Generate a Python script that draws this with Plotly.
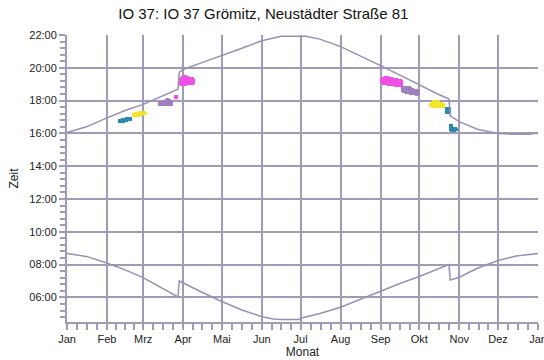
import plotly.graph_objects as go

# --- sunrise / sunset curves (day of year, decimal hours local time) ---
sun_days = [0, 15, 31, 45, 59, 73, 86, 87, 90, 105, 120, 135, 151, 160, 165, 180,
            181, 196, 212, 227, 243, 258, 273, 286, 296, 297, 304, 318, 334, 348, 365]
sunrise = [8.67, 8.50, 8.10, 7.68, 7.21, 6.62, 6.03, 7.00, 6.88, 6.30, 5.75, 5.25,
           4.82, 4.68, 4.65, 4.65, 4.73, 5.02, 5.40, 5.88, 6.40, 6.85, 7.27, 7.68,
           8.00, 7.06, 7.23, 7.78, 8.25, 8.52, 8.67]

set_days = [0, 15, 31, 45, 59, 73, 86, 87, 90, 104, 120, 134, 151, 162, 166, 185,
            196, 212, 227, 243, 258, 273, 286, 296, 297, 304, 318, 334, 345, 358, 365]
sunset = [16.05, 16.40, 16.95, 17.40, 17.77, 18.25, 18.70, 19.72, 19.90, 20.30, 20.74,
          21.15, 21.65, 21.88, 21.92, 21.92, 21.75, 21.29, 20.75, 20.13, 19.55, 18.95,
          18.45, 18.10, 17.07, 16.72, 16.25, 16.00, 15.95, 15.95, 16.03]

# --- flicker periods per day: (days, start hour, end hour, colour) ---
teal_a_days = [41, 42, 43, 44, 45, 46, 47, 48, 49]
teal_a_start = [16.70, 16.70, 16.71, 16.71, 16.73, 16.78, 16.79, 16.80, 16.81]
teal_a_end = [16.83, 16.84, 16.85, 16.85, 16.88, 16.95, 16.96, 16.96, 16.94]

yellow_a_days = [52, 53, 54, 55, 56, 57, 58, 59, 60, 61]
yellow_a_start = [17.09, 17.07, 17.07, 17.08, 17.13, 17.14, 17.15, 17.16, 17.18, 17.21]
yellow_a_end = [17.21, 17.23, 17.23, 17.25, 17.30, 17.32, 17.33, 17.32, 17.31, 17.27]

purple_a_days = [72, 73, 74, 75, 76, 77, 78, 79, 80, 81]
purple_a_start = [17.73, 17.71, 17.71, 17.71, 17.72, 17.72, 17.73, 17.73, 17.74, 17.75]
purple_a_end = [17.91, 17.94, 17.95, 17.96, 17.97, 18.03, 18.07, 18.03, 17.96, 17.93]

magenta_a_days = [84, 85, 87, 88, 89, 90, 91, 92, 93, 94, 95, 96, 97, 98]
magenta_a_start = [18.15, 18.15, 19.01, 18.99, 18.98, 18.98, 18.98, 18.98, 18.99, 19.00,
                   19.01, 19.02, 19.03, 19.08]
magenta_a_end = [18.30, 18.30, 19.27, 19.33, 19.37, 19.45, 19.47, 19.47, 19.43, 19.37,
                 19.37, 19.37, 19.35, 19.27]

magenta_b_days = [244, 245, 246, 247, 248, 249, 250, 251, 252, 253, 254, 255, 256, 257, 258, 259]
magenta_b_start = [19.08, 19.03, 19.01, 19.00, 18.99, 18.98, 18.97, 18.96, 18.95, 18.94,
                   18.93, 18.92, 18.91, 18.91, 18.90, 18.93]
magenta_b_end = [19.29, 19.37, 19.40, 19.42, 19.41, 19.39, 19.37, 19.35, 19.33, 19.32,
                 19.31, 19.30, 19.28, 19.27, 19.25, 19.19]

purple_b_days = [260, 261, 262, 263, 264, 265, 266, 267, 268, 269, 270, 271, 272]
purple_b_start = [18.58, 18.53, 18.51, 18.49, 18.47, 18.45, 18.43, 18.41, 18.40, 18.39,
                  18.38, 18.37, 18.39]
purple_b_end = [18.79, 18.84, 18.86, 18.85, 18.83, 18.81, 18.77, 18.73, 18.69, 18.67,
                18.66, 18.65, 18.59]

yellow_b_days = [282, 283, 284, 285, 286, 287, 288, 289, 290, 291, 292]
yellow_b_start = [17.65, 17.63, 17.62, 17.61, 17.61, 17.61, 17.61, 17.61, 17.61, 17.62, 17.63]
yellow_b_end = [17.79, 17.83, 17.95, 17.99, 18.00, 17.99, 17.92, 17.85, 17.83, 17.81, 17.77]

teal_b_days = [294, 295, 296]
teal_b_start = [17.23, 17.22, 17.25]
teal_b_end = [17.52, 17.57, 17.55]

teal_c_days = [297, 298, 299, 300, 301, 302]
teal_c_start = [16.18, 16.17, 16.17, 16.17, 16.18, 16.20]
teal_c_end = [16.52, 16.50, 16.35, 16.34, 16.32, 16.27]

month_starts = [0, 31, 59, 90, 120, 151, 181, 212, 243, 273, 304, 334, 365]
month_labels = ["Jan", "Feb", "Mrz", "Apr", "Mai", "Jun", "Jul", "Aug", "Sep",
                "Okt", "Nov", "Dez", "Jan"]
hour_ticks = [6, 8, 10, 12, 14, 16, 18, 20, 22]
hour_labels = ["06:00", "08:00", "10:00", "12:00", "14:00", "16:00", "18:00",
               "20:00", "22:00"]

TEAL = "rgb(42,138,172)"
YELLOW = "rgb(242,230,40)"
PURPLE = "rgb(160,128,190)"
MAGENTA = "rgb(240,80,232)"
GRID = "rgb(160,156,184)"
CURVE = "rgb(150,145,178)"

fig = go.Figure()

fig.add_trace(go.Scatter(x=sun_days, y=sunrise, mode="lines",
                         line=dict(color=CURVE, width=1.5), hoverinfo="skip"))
fig.add_trace(go.Scatter(x=set_days, y=sunset, mode="lines",
                         line=dict(color=CURVE, width=1.5), hoverinfo="skip"))

clusters = [
    (teal_a_days, teal_a_start, teal_a_end, TEAL),
    (yellow_a_days, yellow_a_start, yellow_a_end, YELLOW),
    (purple_a_days, purple_a_start, purple_a_end, PURPLE),
    (magenta_a_days, magenta_a_start, magenta_a_end, MAGENTA),
    (magenta_b_days, magenta_b_start, magenta_b_end, MAGENTA),
    (purple_b_days, purple_b_start, purple_b_end, PURPLE),
    (yellow_b_days, yellow_b_start, yellow_b_end, YELLOW),
    (teal_b_days, teal_b_start, teal_b_end, TEAL),
    (teal_c_days, teal_c_start, teal_c_end, TEAL),
]
# each day's flicker window drawn as a small filled block
for days, start, end, col in clusters:
    fig.add_trace(go.Bar(
        x=days, base=start, y=[e - s for s, e in zip(start, end)],
        width=1.0, marker=dict(color=col, line=dict(width=2, color=col)),
        hoverinfo="skip"))

# quarter-month minor ticks
minor_x = []
for a, b in zip(month_starts[:-1], month_starts[1:]):
    minor_x += [a + (b - a) * k / 4 for k in (1, 2, 3)]

axis_font = dict(family="Liberation Sans, Arial, sans-serif", size=11, color="#222")

fig.update_layout(
    width=544, height=360,
    margin=dict(l=67, r=6, t=35, b=38, autoexpand=False),
    paper_bgcolor="white", plot_bgcolor="white",
    showlegend=False, barmode="overlay", bargap=0,
    font=axis_font,
    title=dict(text="IO 37: IO 37 Grömitz, Neustädter Straße 81",
               x=0.484, xref="container", xanchor="center",
               y=0.962, yref="container", yanchor="middle",
               font=dict(family="Liberation Sans, Arial, sans-serif", size=15, color="#111")),
)

fig.update_xaxes(
    range=[0, 365], tickmode="array", tickvals=month_starts, ticktext=month_labels,
    ticklabeloverflow="allow", automargin=False,
    showgrid=True, gridcolor=GRID, gridwidth=2,
    showline=True, linecolor=GRID, linewidth=2,
    ticks="outside", ticklen=6, tickwidth=1.5, tickcolor=GRID,
    minor=dict(tickmode="array", tickvals=minor_x, ticks="outside", ticklen=6,
               tickwidth=1.5, tickcolor=GRID, showgrid=False),
    title=dict(text="Monat", standoff=2, font=dict(size=12)),
    zeroline=False,
)
fig.update_yaxes(
    range=[4.5, 22], tickmode="array", tickvals=hour_ticks, ticktext=hour_labels,
    automargin=False,
    showgrid=True, gridcolor=GRID, gridwidth=2,
    showline=True, linecolor=GRID, linewidth=2,
    ticks="outside", ticklen=6, tickwidth=1.5, tickcolor=GRID,
    minor=dict(tick0=6, dtick=0.4, ticks="outside", ticklen=5,
               tickwidth=1.5, tickcolor=GRID, showgrid=False),
    title=dict(text="Zeit", standoff=8, font=dict(size=12)),
    zeroline=False,
)

fig.write_html("out.html")
